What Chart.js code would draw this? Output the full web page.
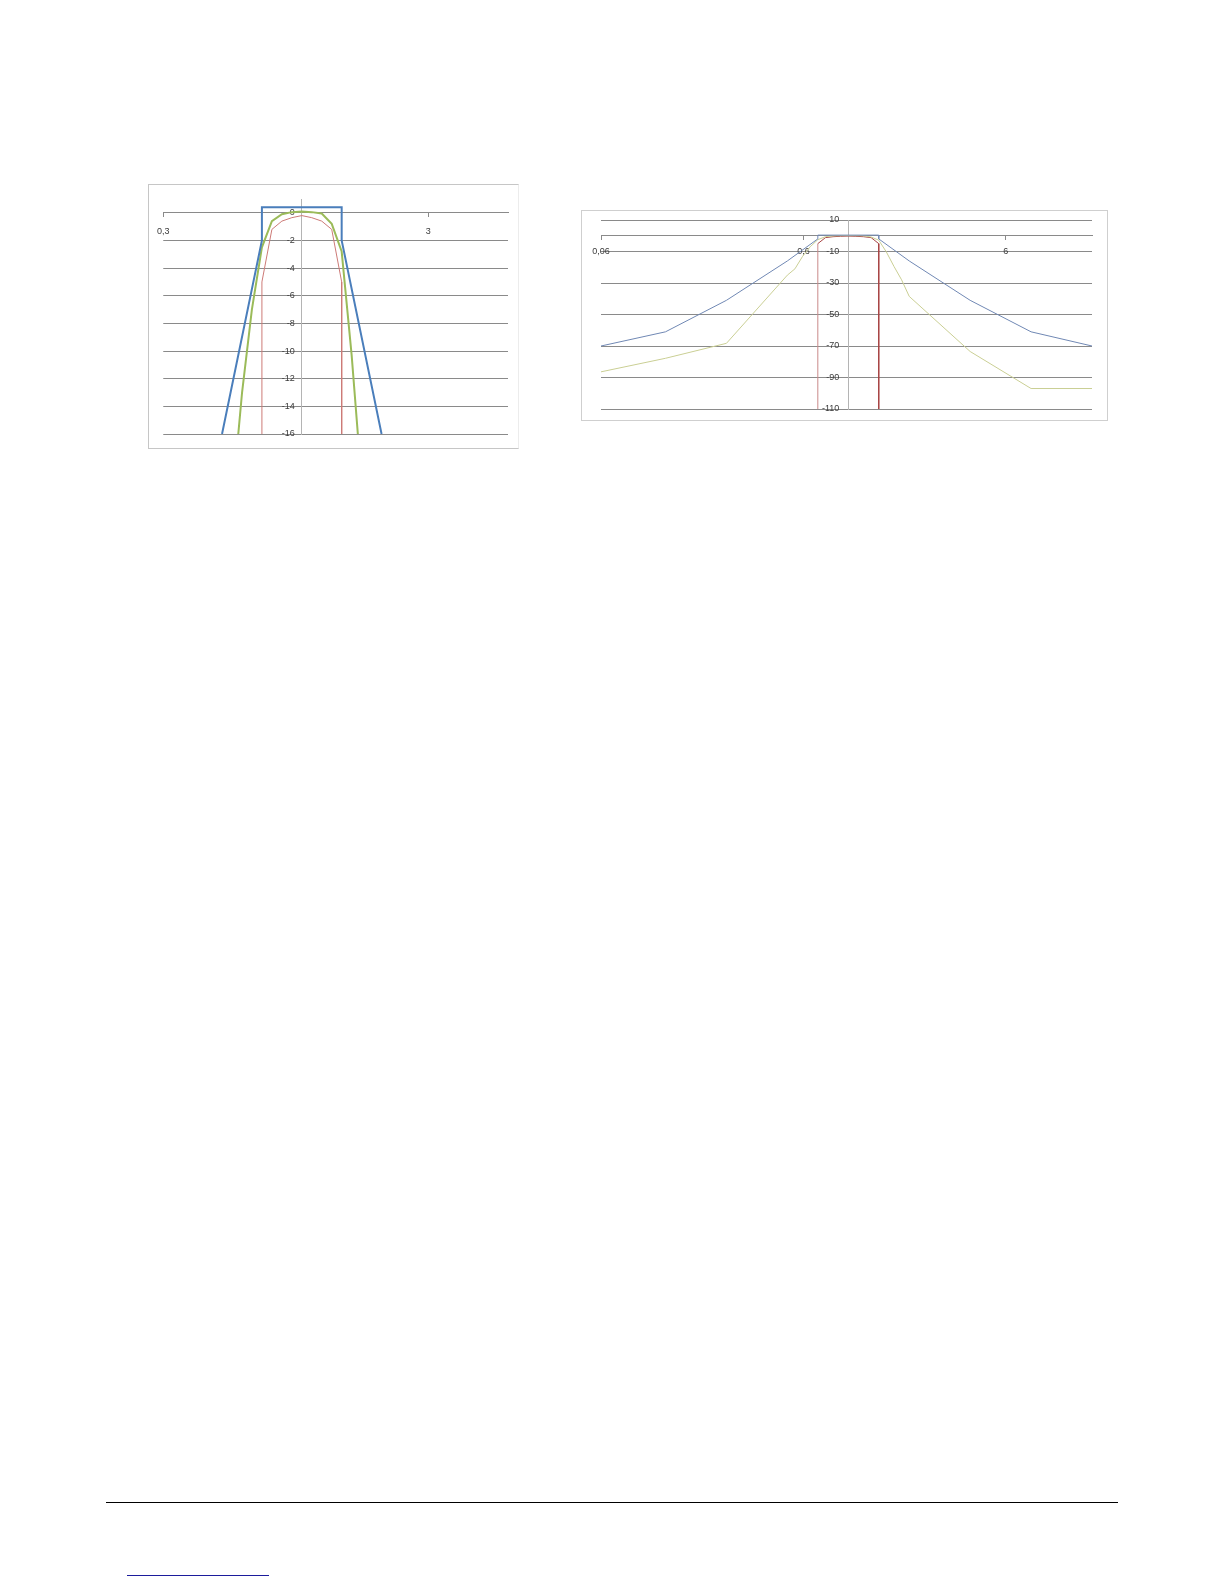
<!DOCTYPE html>
<html>
<head>
<meta charset="utf-8">
<script src="https://cdn.jsdelivr.net/npm/chart.js@4.4.1/dist/chart.umd.min.js"></script>
<style>
  html, body { margin: 0; padding: 0; background: #ffffff; }
  body { position: relative; width: 1224px; height: 1584px; overflow: hidden; }
  .box { position: absolute; box-sizing: border-box; border: 1px solid #c6c6c6; }
  canvas { position: absolute; }
  .rule { position: absolute; height: 1px; }
</style>
</head>
<body>

<div class="box" style="left:148px; top:184px; width:371px; height:265px; border-right-color:#ececec;"></div>
<canvas id="zoomChart" width="370" height="264" style="left:148px; top:184px; width:370px; height:264px;"></canvas>

<div class="box" style="left:581px; top:210px; width:527px; height:211px; border-color:#cfcfcf;"></div>
<canvas id="fullChart" width="527" height="210" style="left:581px; top:210px; width:527px; height:210px;"></canvas>

<div class="rule" style="left:106px; top:1502px; width:1012px; background:#000000;"></div>
<div class="rule" style="left:127px; top:1575px; width:142px; background:#1c1c9c;"></div>

<script>
// *************************************************************
// data : frequency ratio f/fm  ->  level in dB
// *************************************************************

// tolerance mask (blue)
var ratioMask = [0.06, 0.125, 0.25, 0.5, 0.707, 0.707, 1.414, 1.414, 2, 4, 8, 16];
var dbMask    = [-70, -61, -41, -16, -2, 0.4, 0.4, -2, -16, -41, -61, -70];

// filter response (green)
var ratioResp = [0.06, 0.125, 0.25, 0.5, 0.545, 0.595, 0.648, 0.707, 0.771, 0.841, 0.917, 1,
                 1.09, 1.189, 1.297, 1.414, 1.542, 1.682, 1.834, 2, 4, 8, 16];
var dbResp    = [-86.4, -77.8, -68.3, -25, -21, -13, -7, -2.5, -0.6, -0.1, 0.05, 0.1,
                 0.05, -0.05, -0.8, -2.8, -10.3, -19.5, -28, -38.5, -73.5, -97, -97];

// band limits (red)
var ratioBand = [0.707, 0.707, 0.771, 0.841, 0.917, 1, 1.09, 1.189, 1.297, 1.414, 1.414];
var dbBand    = [-110, -5, -1.2, -0.6, -0.35, -0.2, -0.35, -0.6, -1.2, -5, -110];

// axes, left chart
var zoomXTicks  = [0.3, 3];
var zoomXLabels = ["0,3", "3"];
var zoomYTicks  = [0, -2, -4, -6, -8, -10, -12, -14, -16];
var zoomYLabels = ["0", "-2", "-4", "-6", "-8", "-10", "-12", "-14", "-16"];

// axes, right chart
var fullXTicks  = [0.06, 0.6, 6];
var fullXLabels = ["0,06", "0,6", "6"];
var fullYTicks  = [10, -10, -30, -50, -70, -90, -110];
var fullYLabels = ["10", "-10", "-30", "-50", "-70", "-90", "-110"];


function toPoints(xs, ys) {
    var pts = [];
    xs.forEach((x, i) => { pts.push({x: x, y: ys[i]}); });
    return pts;
}

var tickFont = { family: "'Liberation Sans', Arial, sans-serif", size: 9 };

// labels of an axis placed on a value get no padding, so keep a gap with spaces
function makeChart(canvasId, o) {
    return new Chart(document.getElementById(canvasId), {
        type: 'scatter',
        data: {
            datasets: [
                { label: "mask", data: toPoints(ratioMask, dbMask), showLine: true,
                  borderColor: o.blue, borderWidth: o.wide, pointRadius: 0, tension: 0 },
                { label: "response", data: toPoints(ratioResp, dbResp), showLine: true,
                  borderColor: o.green, borderWidth: o.wide, pointRadius: 0, tension: 0 },
                { label: "band", data: toPoints(ratioBand, dbBand), showLine: true,
                  borderColor: o.red, borderWidth: 1, pointRadius: 0, tension: 0,
                  segment: { borderColor: ctx => ctx.p0DataIndex === 0 ? o.redLight : undefined } }
            ]
        },
        options: {
            responsive: false,
            animation: false,
            events: [],
            layout: { padding: o.padding },
            plugins: { legend: { display: false }, tooltip: { enabled: false } },
            scales: {
                x: {
                    type: 'logarithmic',
                    min: o.xMin, max: o.xMax,
                    position: { y: 0 },
                    afterBuildTicks: (axis) => { axis.ticks = o.xTicks.map(v => ({ value: v })); },
                    ticks: {
                        autoSkip: false, maxRotation: 0, padding: o.xPad,
                        color: '#3a3a3a', font: tickFont,
                        callback: (v, i) => o.xLabels[i]
                    },
                    grid: { drawOnChartArea: false, drawTicks: true, tickLength: 4, color: '#8a8a8a' },
                    border: { color: '#8a8a8a', width: 1 }
                },
                y: {
                    type: 'linear',
                    min: o.yMin, max: o.yMax,
                    position: { x: 1 },
                    afterBuildTicks: (axis) => { axis.ticks = o.yTicks.map(v => ({ value: v })); },
                    ticks: {
                        autoSkip: false,
                        color: '#3a3a3a', font: tickFont,
                        callback: (v, i) => o.yLabels[i] + o.gap
                    },
                    grid: { drawTicks: false, color: '#8a8a8a', lineWidth: 1 },
                    border: { color: '#b4b4b4', width: 1 }
                }
            }
        }
    });
}

// *************************************************************
// left : zoom on the pass band
// *************************************************************
var zoomChart = makeChart("zoomChart", {
    xMin: 0.3, xMax: 6, yMin: -16, yMax: 1,
    xTicks: zoomXTicks, xLabels: zoomXLabels,
    yTicks: zoomYTicks, yLabels: zoomYLabels,
    padding: { left: 14, right: 10, top: 15, bottom: 14 },
    xPad: 9, wide: 2, gap: "\u2002\u2009\u200A",
    blue: '#4a7ebb', green: '#9bbb59', red: '#cd7a77', redLight: '#cd7a77'
});

// *************************************************************
// right : full range
// *************************************************************
var fullChart = makeChart("fullChart", {
    xMin: 0.06, xMax: 16, yMin: -110, yMax: 10,
    xTicks: fullXTicks, xLabels: fullXLabels,
    yTicks: fullYTicks, yLabels: fullYLabels,
    padding: { left: 20, right: 16, top: 10, bottom: 11 },
    xPad: 6, wide: 1, gap: "\u2002\u2002",
    blue: '#7088b4', green: '#cacf94', red: '#a84444', redLight: '#c98a8a'
});
</script>
</body>
</html>
